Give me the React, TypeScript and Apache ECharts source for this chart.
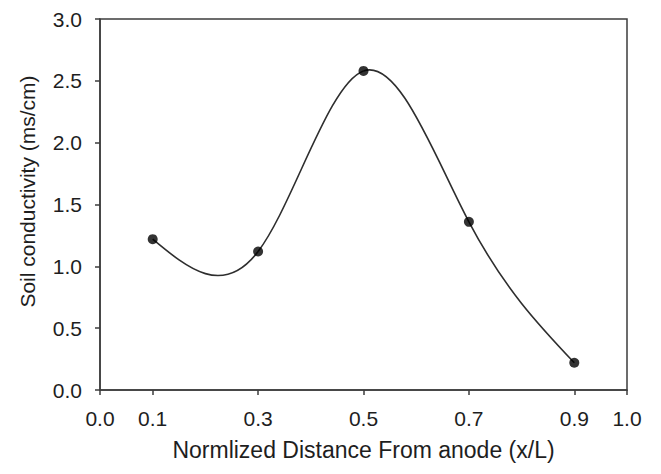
import React, { useEffect, useRef } from "react";
import * as echarts from "echarts";

const distance = [0.1, 0.3, 0.5, 0.7, 0.9];
const conductivity = [1.22, 1.12, 2.58, 1.36, 0.22];
const xTickValues = [0, 0.1, 0.3, 0.5, 0.7, 0.9, 1.0];
const yMin = 0;
const yMax = 3;
const yStep = 0.5;

// Natural cubic spline slopes at the data points (used only to draw the fitted curve)
function splineSlopes(xs: number[], ys: number[]): number[] {
  const n = xs.length;
  const h: number[] = [];
  for (let i = 0; i < n - 1; i++) h.push(xs[i + 1] - xs[i]);
  const M = new Array(n).fill(0);
  const m = n - 2;
  if (m > 0) {
    const a: number[] = [], b: number[] = [], c: number[] = [], d: number[] = [];
    for (let i = 1; i <= m; i++) {
      a.push(h[i - 1]);
      b.push(2 * (h[i - 1] + h[i]));
      c.push(h[i]);
      d.push(6 * ((ys[i + 1] - ys[i]) / h[i] - (ys[i] - ys[i - 1]) / h[i - 1]));
    }
    for (let i = 1; i < m; i++) {
      const w = a[i] / b[i - 1];
      b[i] -= w * c[i - 1];
      d[i] -= w * d[i - 1];
    }
    const sol = new Array(m).fill(0);
    sol[m - 1] = d[m - 1] / b[m - 1];
    for (let i = m - 2; i >= 0; i--) sol[i] = (d[i] - c[i] * sol[i + 1]) / b[i];
    for (let i = 0; i < m; i++) M[i + 1] = sol[i];
  }
  const s: number[] = [];
  for (let i = 0; i < n - 1; i++) {
    s.push((ys[i + 1] - ys[i]) / h[i] - (h[i] * (2 * M[i] + M[i + 1])) / 6);
  }
  s.push((ys[n - 1] - ys[n - 2]) / h[n - 2] + (h[n - 2] * (M[n - 2] + 2 * M[n - 1])) / 6);
  return s;
}

const FONT = '"Liberation Sans", Arial, sans-serif';
const AXIS_COLOR = "#3c3c3c";
const TEXT_COLOR = "#1e1e1e";

export default function App() {
  const ref = useRef<HTMLDivElement>(null);
  useEffect(() => {
    if (!ref.current) return;
    const chart = echarts.init(ref.current, null, { renderer: "svg" });
    const slopes = splineSlopes(distance, conductivity);
    const points = distance.map((x, i) => [x, conductivity[i]]);

    const option: any = {
      animation: false,
      backgroundColor: "#ffffff",
      grid: {
        left: 100,
        top: 19,
        right: 34,
        bottom: 84,
        show: true,
        borderColor: AXIS_COLOR,
        borderWidth: 1.5,
        backgroundColor: "transparent",
      },
      xAxis: {
        type: "value",
        min: 0,
        max: 1,
        interval: 0.1,
        name: "Normlized Distance From anode (x/L)",
        nameLocation: "middle",
        nameGap: 48,
        nameTextStyle: { fontFamily: FONT, fontSize: 23, color: TEXT_COLOR },
        axisLine: { show: true, lineStyle: { color: AXIS_COLOR, width: 1.5 } },
        axisTick: {
          show: true,
          inside: false,
          length: 5,
          customValues: xTickValues,
          lineStyle: { color: AXIS_COLOR, width: 1.5 },
        },
        axisLabel: {
          margin: 18,
          fontFamily: FONT,
          fontSize: 21,
          color: TEXT_COLOR,
          customValues: xTickValues,
          formatter: (v: number) => v.toFixed(1),
        },
        splitLine: { show: false },
      },
      yAxis: {
        type: "value",
        min: yMin,
        max: yMax,
        interval: yStep,
        name: "Soil conductivity (ms/cm)",
        nameLocation: "middle",
        nameGap: 62,
        nameRotate: 90,
        nameTextStyle: {
          fontFamily: FONT,
          fontSize: 21,
          color: TEXT_COLOR,
          padding: [0, 0, 0, 26],
        },
        axisLine: { show: true, lineStyle: { color: AXIS_COLOR, width: 1.5 } },
        axisTick: {
          show: true,
          inside: false,
          length: 5,
          lineStyle: { color: AXIS_COLOR, width: 1.5 },
        },
        axisLabel: {
          margin: 18,
          fontFamily: FONT,
          fontSize: 21,
          color: TEXT_COLOR,
          formatter: (v: number) => v.toFixed(1),
        },
        splitLine: { show: false },
      },
      series: [
        {
          type: "custom",
          name: "spline",
          coordinateSystem: "cartesian2d",
          data: points,
          encode: { x: 0, y: 1 },
          silent: true,
          z: 2,
          renderItem: (params: any, api: any) => {
            const i = params.dataIndex;
            if (i >= distance.length - 1) return null;
            const x0 = distance[i], y0 = conductivity[i];
            const x1 = distance[i + 1], y1 = conductivity[i + 1];
            const h = x1 - x0;
            const p0 = api.coord([x0, y0]);
            const c1 = api.coord([x0 + h / 3, y0 + (h / 3) * slopes[i]]);
            const c2 = api.coord([x1 - h / 3, y1 - (h / 3) * slopes[i + 1]]);
            const p1 = api.coord([x1, y1]);
            return {
              type: "bezierCurve",
              shape: {
                x1: p0[0], y1: p0[1],
                cpx1: c1[0], cpy1: c1[1],
                cpx2: c2[0], cpy2: c2[1],
                x2: p1[0], y2: p1[1],
              },
              style: { stroke: "#2e2e2e", lineWidth: 1.6, fill: null },
            };
          },
        },
        {
          type: "scatter",
          name: "measured",
          data: points,
          symbol: "circle",
          symbolSize: 10,
          itemStyle: { color: "#000000" },
          z: 3,
        },
      ],
    };
    chart.setOption(option);
    return () => chart.dispose();
  }, []);
  return (
    <div
      ref={ref}
      style={{ position: "absolute", left: 0, top: 0, width: 661, height: 474 }}
    />
  );
}
